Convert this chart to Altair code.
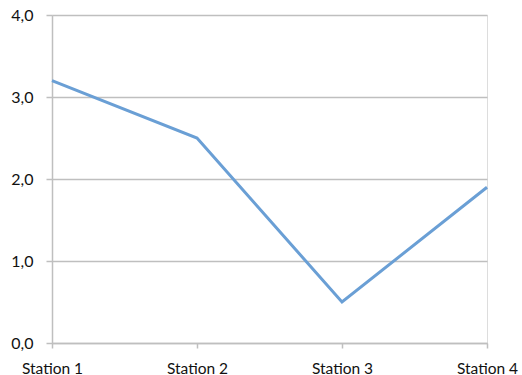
import altair as alt
import pandas as pd

stations = ["Station 1", "Station 2", "Station 3", "Station 4"]
values = [3.2, 2.5, 0.5, 1.9]

df = pd.DataFrame({"station": stations, "value": values})

grey = "#bfbfbf"
font = "Lato"

chart = alt.Chart(df).mark_line(color="#6a9fd5", strokeWidth=3).encode(
    x=alt.X("station:N", sort=stations, title=None,
            scale=alt.Scale(type="point", padding=0),
            axis=alt.Axis(labelAngle=0, labelFont=font, labelFontSize=15.5, labelColor="#111111",
                          labelPadding=13, domainColor=grey, domainWidth=1.5,
                          tickColor=grey, tickSize=5, tickWidth=1.5, grid=False)),
    y=alt.Y("value:Q", title=None,
            scale=alt.Scale(domain=[0, 4], nice=False),
            axis=alt.Axis(values=[0, 1, 2, 3, 4],
                          labelExpr="replace(format(datum.value, '.1f'), '.', ',')",
                          labelFont=font, labelFontSize=16, labelColor="#111111",
                          labelPadding=13, domainColor=grey, domainWidth=1.5,
                          tickColor=grey, tickSize=6, tickWidth=1.5,
                          gridColor=grey, gridWidth=1.5)),
).properties(
    width=435, height=328,
    padding={"left": 52, "top": 15, "right": 35, "bottom": 32},
    autosize=alt.AutoSizeParams(type="none"),
).configure_view(stroke=grey, strokeWidth=1.5).configure(background="white")

chart.save("out.html", embed_options={"renderer": "svg", "actions": False})
